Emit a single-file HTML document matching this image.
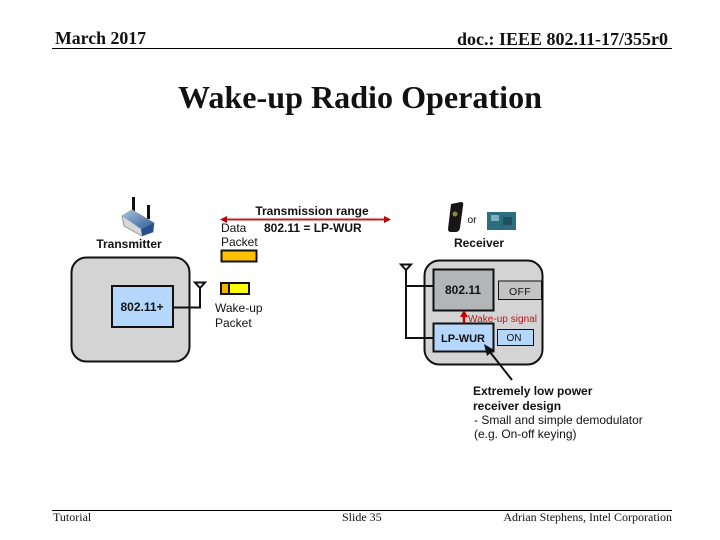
<!DOCTYPE html>
<html><head><meta charset="utf-8"><style>
html,body{margin:0;padding:0;background:#fff}
svg{display:block}
text{font-family:"Liberation Sans",sans-serif;fill:#111}
.s{font-family:"Liberation Serif",serif}
</style></head><body>
<svg width="720" height="540" viewBox="0 0 720 540" xmlns="http://www.w3.org/2000/svg">
<defs>
<linearGradient id="r" x1="0" y1="0" x2="1" y2="1"><stop offset="0" stop-color="#a9c4de"/><stop offset="1" stop-color="#2f5c96"/></linearGradient>
</defs>
<text class="s" x="55" y="44" font-size="17.500" font-weight="bold" textLength="91" lengthAdjust="spacingAndGlyphs">March 2017</text>
<text class="s" x="457" y="45" font-size="17.500" font-weight="bold" textLength="211" lengthAdjust="spacingAndGlyphs">doc.: IEEE 802.11-17/355r0</text>
<rect x="52" y="48" width="620" height="1" fill="#000"/>
<text class="s" x="360" y="108" font-size="32" font-weight="bold" text-anchor="middle" textLength="364" lengthAdjust="spacingAndGlyphs">Wake-up Radio Operation</text>

<!-- Transmitter icon -->
<rect x="132" y="197" width="3" height="18" fill="#111"/>
<rect x="147" y="205" width="3" height="14" fill="#111"/>
<path d="M122 216 L132 210 L154 223 L153 232 L142 236 L124 226 Z" fill="#d5d8da" stroke="#9a9a9a"/>
<path d="M122 216 L132 210 L154 223 L141 229 Z" fill="url(#r)"/>
<path d="M141 229 L154 223 L153 232 L142 236 Z" fill="#27508a"/>
<text x="129" y="248" font-size="12" font-weight="bold" text-anchor="middle">Transmitter</text>

<!-- Transmitter box -->
<rect x="71.500" y="257.500" width="118" height="104" rx="15" fill="#d4d4d4" stroke="#111" stroke-width="2"/>
<rect x="112" y="286" width="61" height="41" fill="#b5d7fb" stroke="#111" stroke-width="2"/>
<text x="142" y="311" font-size="12" font-weight="bold" text-anchor="middle">802.11+</text>
<path d="M173 307.500 H200 V286" fill="none" stroke="#111" stroke-width="2"/>
<path d="M195 282.500 H205 L200 288 Z" fill="#fff" stroke="#111" stroke-width="2"/>

<!-- Transmission range -->
<text x="312" y="215" font-size="12" font-weight="bold" text-anchor="middle">Transmission range</text>
<path d="M225 219.500 H387" stroke="#b8202a" stroke-width="2"/>
<path d="M220 219.500 L227 216 V223 Z M391 219.500 L384 216 V223 Z" fill="#c00000"/>
<text x="221" y="232" font-size="12">Data</text>
<text x="221" y="246" font-size="12">Packet</text>
<text x="264" y="232" font-size="12" font-weight="bold">802.11 = LP-WUR</text>
<rect x="221.500" y="250.500" width="35" height="11" fill="#ffc000" stroke="#111" stroke-width="2"/>

<rect x="221" y="283" width="28" height="11" fill="#ffff00" stroke="#111" stroke-width="2"/>
<rect x="222" y="284" width="7" height="9" fill="#f0b400"/>
<rect x="228" y="283" width="2" height="11" fill="#111"/>
<text x="215" y="312" font-size="12">Wake-up</text>
<text x="215" y="327" font-size="12">Packet</text>

<!-- Receiver icons -->
<path d="M451 204 L461 202 Q464 202 463 206 L460 228 Q459 232 456 232 L451 232 Q448 232 448 229 Z" fill="#161616"/>
<circle cx="455" cy="214" r="2.500" fill="#8c8a3c"/>
<text x="472" y="223" font-size="10.500" text-anchor="middle">or</text>
<rect x="487" y="212" width="29" height="18" fill="#2d6d80"/>
<rect x="491" y="215" width="8" height="6" fill="#7fb0b8"/>
<rect x="503" y="217" width="9" height="8" fill="#1f4f60"/>
<text x="479" y="247" font-size="12" font-weight="bold" text-anchor="middle">Receiver</text>

<!-- Receiver box -->
<rect x="424.500" y="260.500" width="118" height="104" rx="15" fill="#d4d4d4" stroke="#111" stroke-width="2"/>
<rect x="433.500" y="269.500" width="60" height="41" fill="#b2b6b9" stroke="#111" stroke-width="2"/>
<text x="463" y="294" font-size="12" font-weight="bold" text-anchor="middle">802.11</text>
<rect x="498.500" y="281" width="43" height="18.500" fill="#c4c4c4" stroke="#111"/>
<text x="520" y="295" font-size="10.500" text-anchor="middle" letter-spacing=".3">OFF</text>
<rect x="433.500" y="323.500" width="60" height="28" fill="#b5d7fb" stroke="#111" stroke-width="2"/>
<text x="463" y="342" font-size="11" font-weight="bold" text-anchor="middle">LP-WUR</text>
<rect x="497.500" y="329.500" width="36" height="16" fill="#b5d7fb" stroke="#111"/>
<text x="514" y="341" font-size="10" text-anchor="middle">ON</text>
<path d="M433 286 H406 V338 H433" fill="none" stroke="#111" stroke-width="2"/>
<path d="M406 286 V268" stroke="#111" stroke-width="2"/>
<path d="M401 264.500 H411 L406 270 Z" fill="#fff" stroke="#111" stroke-width="2"/>

<!-- Wake-up signal -->
<path d="M464 323 V316" stroke="#c00000" stroke-width="2.500"/>
<path d="M464 310 L460 317 H468 Z" fill="#c00000"/>
<text x="468" y="322" font-size="10" style="fill:#c0141c" textLength="69">Wake-up signal</text>

<!-- Arrow -->
<path d="M512 380 L490 352" stroke="#111" stroke-width="2"/>
<path d="M484 344 L494 350 L487 356 Z" fill="#111"/>

<text x="473" y="395" font-size="12" font-weight="bold">Extremely low power</text>
<text x="473" y="410" font-size="12" font-weight="bold">receiver design</text>
<text x="474" y="424" font-size="12">- Small and simple demodulator</text>
<text x="474" y="438" font-size="12">(e.g. On-off keying)</text>

<!-- Footer -->
<rect x="52" y="510" width="620" height="1" fill="#000"/>
<text class="s" x="53" y="521" font-size="12">Tutorial</text>
<text class="s" x="342" y="521" font-size="12">Slide 35</text>
<text class="s" x="672" y="521" font-size="12" text-anchor="end">Adrian Stephens, Intel Corporation</text>
</svg>
</body></html>
